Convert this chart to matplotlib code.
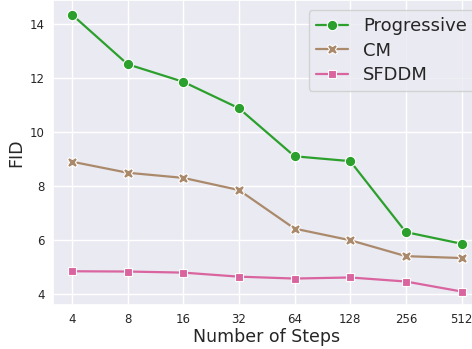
import matplotlib
matplotlib.use("Agg")
import matplotlib.pyplot as plt
import seaborn as sns

sns.set_theme(style="darkgrid")
plt.rcParams['font.family'] = ['DejaVu Sans']

steps = [4, 8, 16, 32, 64, 128, 256, 512]
progressive = [14.36, 12.52, 11.87, 10.89, 9.11, 8.93, 6.30, 5.87]
cm = [8.91, 8.50, 8.31, 7.86, 6.43, 6.00, 5.41, 5.34]
sfddm = [4.85, 4.84, 4.80, 4.65, 4.58, 4.62, 4.47, 4.10]

series = [
    ("Progressive", progressive, "#2ca02c", "o", 7.5),
    ("CM", cm, "#ab8a6c", "X", 7.5),
    ("SFDDM", sfddm, "#d9649f", "s", 6),
]

fig = plt.figure(figsize=(4.72, 3.49), dpi=100)
ax = fig.add_axes([53/472, 1 - 305/349, 428/472, 305/349])

for name, vals, color, marker, ms in series:
    ax.plot(steps, vals, color=color, marker=marker, markersize=ms, linewidth=1.6,
            markeredgecolor="white", markeredgewidth=0.8, label=name)

ax.set_xscale("log", base=2)
ax.set_xticks(steps)
ax.set_xticklabels([str(s) for s in steps])
ax.minorticks_off()
ax.set_xlim(2 ** (2 - 0.34), 2 ** (9 + 0.35))
ax.set_ylim(3.6, 14.9)
ax.set_yticks([4, 6, 8, 10, 12, 14])
ax.tick_params(axis="both", labelsize=8.5, colors="#262626", length=0)
ax.tick_params(axis="x", pad=6)
ax.tick_params(axis="y", pad=6)
ax.set_xlabel("Number of Steps", fontsize=12.5, labelpad=1)
ax.set_ylabel("FID", fontsize=12.5, labelpad=3)
ax.legend(loc="upper right", fontsize=13, frameon=True, borderaxespad=0,
          handlelength=1.8, labelspacing=0.35, borderpad=0.4,
          bbox_to_anchor=((474 - 53) / 428, 1 - 10 / 305))

fig.savefig("out.png", dpi=100)
